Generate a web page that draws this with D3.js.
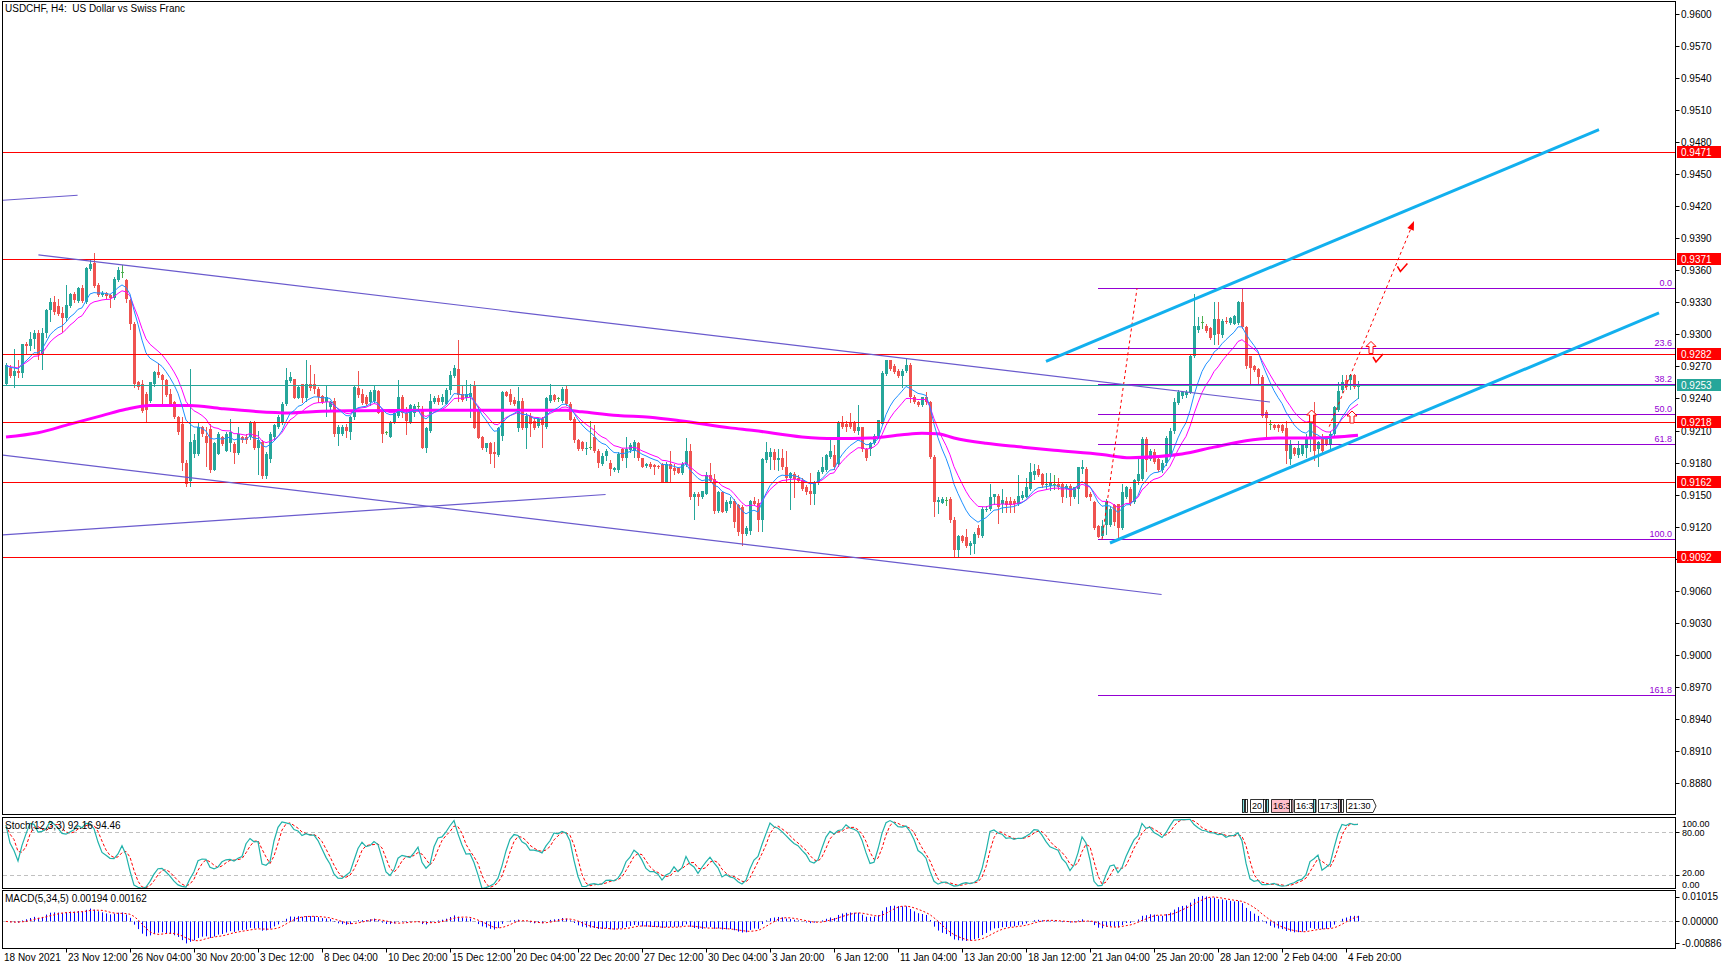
<!DOCTYPE html>
<html><head><meta charset="utf-8">
<script src="https://cdn.jsdelivr.net/npm/d3@7"></script>
<style>
body{margin:0;background:#fff;}
svg{display:block;font-family:"Liberation Sans",Arial,sans-serif;}
</style></head><body>
<svg id="chart" width="1723" height="969"></svg>
<script>
// ---------------- DATA ----------------
const chartTitle = "USDCHF, H4:  US Dollar vs Swiss Franc";
const timeLabels = ["18 Nov 2021","23 Nov 12:00","26 Nov 04:00","30 Nov 20:00","3 Dec 12:00","8 Dec 04:00","10 Dec 20:00","15 Dec 12:00","20 Dec 04:00","22 Dec 20:00","27 Dec 12:00","30 Dec 04:00","3 Jan 20:00","6 Jan 12:00","11 Jan 04:00","13 Jan 20:00","18 Jan 12:00","21 Jan 04:00","25 Jan 20:00","28 Jan 12:00","2 Feb 04:00","4 Feb 20:00"];
const barsPerLabel = 16;

const opens = [
0.9254,0.9269,0.9261,0.9266,0.9264,0.9291,0.9289,0.9296,0.9301,0.9282,
0.9301,0.9323,0.9330,0.9327,0.9320,0.9315,0.9327,0.9338,0.9331,0.9343,
0.9330,0.9361,0.9367,0.9346,0.9337,0.9339,0.9337,0.9334,0.9351,0.9358,
0.9351,0.9332,0.9310,0.9255,0.9254,0.9244,0.9238,0.9254,0.9265,0.9262,
0.9257,0.9244,0.9237,0.9223,0.9216,0.9180,0.9163,0.9188,0.9188,0.9213,
0.9205,0.9211,0.9173,0.9188,0.9204,0.9191,0.9198,0.9197,0.9189,0.9204,
0.9204,0.9204,0.9218,0.9194,0.9199,0.9167,0.9183,0.9204,0.9213,0.9218,
0.9235,0.9256,0.9258,0.9240,0.9254,0.9240,0.9254,0.9254,0.9249,0.9242,
0.9237,0.9232,0.9238,0.9207,0.9207,0.9213,0.9209,0.9223,0.9250,0.9244,
0.9241,0.9237,0.9238,0.9247,0.9227,0.9209,0.9204,0.9218,0.9224,0.9241,
0.9226,0.9218,0.9226,0.9233,0.9229,0.9194,0.9210,0.9237,0.9240,0.9237,
0.9235,0.9248,0.9261,0.9268,0.9244,0.9240,0.9241,0.9253,0.9230,0.9204,
0.9194,0.9198,0.9190,0.9187,0.9205,0.9246,0.9244,0.9239,0.9212,0.9238,
0.9212,0.9224,0.9219,0.9214,0.9221,0.9213,0.9238,0.9243,0.9240,0.9238,
0.9249,0.9235,0.9221,0.9201,0.9199,0.9193,0.9195,0.9204,0.9191,0.9179,
0.9186,0.9180,0.9173,0.9173,0.9193,0.9184,0.9192,0.9191,0.9198,0.9184,
0.9177,0.9179,0.9178,0.9177,0.9179,0.9162,0.9179,0.9175,0.9175,0.9170,
0.9178,0.9191,0.9148,0.9151,0.9148,0.9151,0.9168,0.9165,0.9135,0.9152,
0.9135,0.9141,0.9144,0.9140,0.9138,0.9113,0.9116,0.9144,0.9142,0.9126,
0.9182,0.9185,0.9190,0.9182,0.9184,0.9176,0.9166,0.9169,0.9166,0.9164,
0.9157,0.9153,0.9151,0.9161,0.9171,0.9173,0.9185,0.9187,0.9179,0.9218,
0.9216,0.9218,0.9218,0.9210,0.9213,0.9193,0.9193,0.9198,0.9205,0.9216,
0.9263,0.9276,0.9270,0.9266,0.9261,0.9266,0.9271,0.9241,0.9237,0.9234,
0.9241,0.9237,0.9185,0.9143,0.9142,0.9145,0.9146,0.9126,0.9098,0.9111,
0.9110,0.9102,0.9104,0.9119,0.9111,0.9136,0.9137,0.9148,0.9149,0.9141,
0.9144,0.9144,0.9144,0.9141,0.9147,0.9148,0.9155,0.9168,0.9174,0.9169,
0.9159,0.9158,0.9160,0.9160,0.9160,0.9155,0.9158,0.9148,0.9155,0.9174,
0.9174,0.9151,0.9143,0.9121,0.9111,0.9122,0.9122,0.9140,0.9141,0.9119,
0.9148,0.9155,0.9143,0.9163,0.9165,0.9202,0.9183,0.9190,0.9183,0.9173,
0.9180,0.9188,0.9210,0.9236,0.9242,0.9243,0.9246,0.9280,0.9304,0.9312,
0.9308,0.9306,0.9299,0.9314,0.9299,0.9313,0.9311,0.9310,0.9311,0.9330,
0.9307,0.9280,0.9270,0.9268,0.9260,0.9227,0.9216,0.9215,0.9215,0.9215,
0.9212,0.9183,0.9194,0.9187,0.9188,0.9194,0.9204,0.9226,0.9193,0.9204,
0.9204,0.9196,0.9207,0.9229,0.9248,0.9257,0.9257,0.9262,0.9251];
const highs = [
0.9273,0.9271,0.9286,0.9276,0.9291,0.9293,0.9302,0.9304,0.9304,0.9306,
0.9324,0.9334,0.9336,0.9333,0.9326,0.9346,0.9339,0.9340,0.9344,0.9346,
0.9363,0.9370,0.9376,0.9348,0.9341,0.9340,0.9338,0.9354,0.9363,0.9365,
0.9352,0.9333,0.9312,0.9256,0.9257,0.9246,0.9255,0.9266,0.9273,0.9263,
0.9258,0.9249,0.9238,0.9224,0.9223,0.9182,0.9268,0.9207,0.9218,0.9214,
0.9213,0.9216,0.9199,0.9209,0.9205,0.9209,0.9221,0.9199,0.9213,0.9205,
0.9207,0.9219,0.9219,0.9210,0.9201,0.9190,0.9209,0.9216,0.9225,0.9237,
0.9269,0.9265,0.9258,0.9252,0.9254,0.9276,0.9271,0.9263,0.9251,0.9243,
0.9253,0.9238,0.9240,0.9215,0.9215,0.9216,0.9224,0.9252,0.9266,0.9249,
0.9243,0.9248,0.9252,0.9248,0.9229,0.9210,0.9219,0.9229,0.9257,0.9243,
0.9232,0.9235,0.9235,0.9237,0.9233,0.9213,0.9244,0.9242,0.9243,0.9244,
0.9250,0.9266,0.9271,0.9295,0.9252,0.9257,0.9254,0.9256,0.9232,0.9205,
0.9198,0.9199,0.9199,0.9213,0.9247,0.9247,0.9249,0.9241,0.9251,0.9240,
0.9226,0.9226,0.9221,0.9222,0.9223,0.9241,0.9254,0.9244,0.9241,0.9251,
0.9252,0.9237,0.9223,0.9202,0.9200,0.9199,0.9219,0.9215,0.9193,0.9189,
0.9193,0.9182,0.9176,0.9190,0.9194,0.9204,0.9198,0.9201,0.9199,0.9184,
0.9180,0.9181,0.9179,0.9178,0.9180,0.9181,0.9191,0.9179,0.9176,0.9181,
0.9203,0.9197,0.9152,0.9152,0.9153,0.9171,0.9180,0.9169,0.9153,0.9153,
0.9145,0.9148,0.9146,0.9141,0.9140,0.9121,0.9145,0.9148,0.9146,0.9184,
0.9199,0.9194,0.9193,0.9193,0.9193,0.9191,0.9171,0.9171,0.9168,0.9166,
0.9159,0.9170,0.9163,0.9173,0.9185,0.9188,0.9201,0.9196,0.9219,0.9224,
0.9219,0.9226,0.9219,0.9234,0.9213,0.9194,0.9199,0.9207,0.9220,0.9266,
0.9276,0.9276,0.9272,0.9268,0.9268,0.9278,0.9273,0.9243,0.9238,0.9241,
0.9246,0.9238,0.9187,0.9148,0.9148,0.9148,0.9148,0.9129,0.9112,0.9112,
0.9118,0.9107,0.9115,0.9122,0.9138,0.9139,0.9160,0.9151,0.9151,0.9155,
0.9148,0.9148,0.9146,0.9168,0.9153,0.9166,0.9180,0.9179,0.9178,0.9170,
0.9170,0.9170,0.9168,0.9166,0.9162,0.9160,0.9160,0.9157,0.9176,0.9182,
0.9176,0.9152,0.9144,0.9122,0.9126,0.9146,0.9139,0.9141,0.9141,0.9160,
0.9158,0.9157,0.9165,0.9183,0.9204,0.9204,0.9193,0.9193,0.9184,0.9182,
0.9205,0.9212,0.9240,0.9248,0.9247,0.9248,0.9281,0.9338,0.9316,0.9317,
0.9310,0.9307,0.9330,0.9330,0.9314,0.9316,0.9316,0.9318,0.9331,0.9343,
0.9308,0.9280,0.9271,0.9269,0.9262,0.9229,0.9220,0.9216,0.9216,0.9216,
0.9219,0.9201,0.9195,0.9200,0.9197,0.9207,0.9227,0.9237,0.9200,0.9207,
0.9205,0.9210,0.9233,0.9255,0.9262,0.9262,0.9263,0.9263,0.9256];
const lows = [
0.9253,0.9260,0.9251,0.9260,0.9260,0.9283,0.9285,0.9287,0.9277,0.9268,
0.9298,0.9313,0.9319,0.9318,0.9302,0.9313,0.9326,0.9330,0.9330,0.9330,
0.9329,0.9360,0.9344,0.9336,0.9336,0.9334,0.9326,0.9333,0.9350,0.9354,
0.9330,0.9305,0.9251,0.9249,0.9227,0.9218,0.9237,0.9252,0.9260,0.9234,
0.9242,0.9233,0.9222,0.9207,0.9173,0.9158,0.9158,0.9185,0.9187,0.9205,
0.9177,0.9171,0.9173,0.9188,0.9196,0.9191,0.9191,0.9180,0.9188,0.9199,
0.9198,0.9202,0.9193,0.9169,0.9166,0.9166,0.9181,0.9202,0.9212,0.9216,
0.9234,0.9255,0.9240,0.9240,0.9237,0.9238,0.9248,0.9245,0.9237,0.9236,
0.9224,0.9230,0.9205,0.9196,0.9206,0.9204,0.9202,0.9221,0.9241,0.9235,
0.9234,0.9234,0.9237,0.9226,0.9199,0.9207,0.9204,0.9217,0.9223,0.9223,
0.9207,0.9217,0.9224,0.9229,0.9194,0.9190,0.9209,0.9236,0.9235,0.9235,
0.9235,0.9244,0.9260,0.9238,0.9238,0.9239,0.9223,0.9212,0.9203,0.9193,
0.9191,0.9180,0.9176,0.9186,0.9201,0.9242,0.9235,0.9234,0.9210,0.9211,
0.9194,0.9205,0.9211,0.9213,0.9195,0.9212,0.9237,0.9238,0.9238,0.9237,
0.9234,0.9220,0.9199,0.9192,0.9192,0.9188,0.9193,0.9190,0.9176,0.9178,
0.9182,0.9168,0.9172,0.9171,0.9182,0.9176,0.9190,0.9185,0.9182,0.9176,
0.9176,0.9175,0.9169,0.9175,0.9162,0.9162,0.9162,0.9169,0.9170,0.9169,
0.9177,0.9146,0.9127,0.9140,0.9147,0.9151,0.9162,0.9133,0.9134,0.9134,
0.9134,0.9138,0.9120,0.9112,0.9103,0.9112,0.9113,0.9140,0.9116,0.9116,
0.9181,0.9174,0.9174,0.9173,0.9174,0.9163,0.9137,0.9148,0.9162,0.9154,
0.9151,0.9141,0.9141,0.9160,0.9170,0.9172,0.9184,0.9174,0.9177,0.9212,
0.9210,0.9212,0.9209,0.9207,0.9191,0.9182,0.9187,0.9197,0.9204,0.9216,
0.9262,0.9267,0.9264,0.9260,0.9251,0.9265,0.9237,0.9236,0.9233,0.9233,
0.9235,0.9184,0.9130,0.9133,0.9142,0.9140,0.9124,0.9092,0.9093,0.9106,
0.9101,0.9094,0.9095,0.9110,0.9110,0.9135,0.9136,0.9141,0.9123,0.9134,
0.9134,0.9134,0.9134,0.9140,0.9146,0.9148,0.9154,0.9165,0.9167,0.9157,
0.9155,0.9154,0.9155,0.9155,0.9143,0.9148,0.9140,0.9147,0.9142,0.9170,
0.9148,0.9145,0.9118,0.9110,0.9110,0.9113,0.9121,0.9122,0.9109,0.9118,
0.9147,0.9140,0.9142,0.9160,0.9164,0.9172,0.9182,0.9180,0.9172,0.9171,
0.9178,0.9187,0.9208,0.9235,0.9240,0.9241,0.9245,0.9279,0.9302,0.9306,
0.9302,0.9296,0.9291,0.9291,0.9298,0.9311,0.9310,0.9310,0.9310,0.9306,
0.9269,0.9254,0.9266,0.9254,0.9223,0.9205,0.9211,0.9211,0.9210,0.9209,
0.9180,0.9179,0.9187,0.9185,0.9187,0.9185,0.9191,0.9182,0.9177,0.9188,
0.9196,0.9193,0.9206,0.9228,0.9246,0.9249,0.9249,0.9250,0.9240];
const closes = [
0.9271,0.9261,0.9266,0.9264,0.9291,0.9289,0.9296,0.9301,0.9282,0.9301,
0.9323,0.9330,0.9321,0.9319,0.9315,0.9328,0.9338,0.9332,0.9343,0.9331,
0.9362,0.9366,0.9345,0.9337,0.9339,0.9336,0.9334,0.9352,0.9360,0.9358,
0.9333,0.9310,0.9254,0.9251,0.9228,0.9229,0.9255,0.9265,0.9262,0.9257,
0.9243,0.9234,0.9223,0.9209,0.9180,0.9160,0.9199,0.9201,0.9213,0.9207,
0.9198,0.9173,0.9198,0.9207,0.9197,0.9207,0.9209,0.9189,0.9207,0.9201,
0.9201,0.9218,0.9194,0.9201,0.9167,0.9188,0.9207,0.9215,0.9223,0.9235,
0.9257,0.9260,0.9240,0.9251,0.9240,0.9254,0.9250,0.9249,0.9241,0.9237,
0.9241,0.9237,0.9207,0.9213,0.9213,0.9210,0.9223,0.9251,0.9243,0.9236,
0.9235,0.9246,0.9248,0.9226,0.9207,0.9209,0.9218,0.9226,0.9241,0.9226,
0.9219,0.9234,0.9233,0.9233,0.9194,0.9212,0.9238,0.9240,0.9237,0.9241,
0.9248,0.9262,0.9269,0.9243,0.9239,0.9244,0.9245,0.9212,0.9203,0.9194,
0.9198,0.9188,0.9188,0.9212,0.9246,0.9242,0.9237,0.9235,0.9238,0.9212,
0.9224,0.9216,0.9212,0.9221,0.9215,0.9240,0.9243,0.9239,0.9240,0.9249,
0.9235,0.9220,0.9201,0.9193,0.9193,0.9194,0.9195,0.9191,0.9180,0.9186,
0.9191,0.9174,0.9175,0.9188,0.9184,0.9193,0.9196,0.9199,0.9184,0.9176,
0.9179,0.9176,0.9176,0.9176,0.9162,0.9179,0.9174,0.9172,0.9170,0.9179,
0.9191,0.9148,0.9151,0.9148,0.9153,0.9168,0.9163,0.9135,0.9152,0.9134,
0.9143,0.9144,0.9124,0.9115,0.9113,0.9119,0.9144,0.9141,0.9126,0.9183,
0.9190,0.9190,0.9182,0.9184,0.9176,0.9166,0.9170,0.9165,0.9163,0.9155,
0.9152,0.9151,0.9162,0.9171,0.9176,0.9187,0.9191,0.9176,0.9218,0.9213,
0.9213,0.9213,0.9210,0.9213,0.9193,0.9184,0.9198,0.9205,0.9220,0.9264,
0.9276,0.9268,0.9265,0.9261,0.9266,0.9271,0.9241,0.9237,0.9234,0.9241,
0.9237,0.9185,0.9143,0.9145,0.9146,0.9145,0.9126,0.9098,0.9111,0.9107,
0.9102,0.9105,0.9113,0.9112,0.9137,0.9137,0.9148,0.9151,0.9138,0.9145,
0.9140,0.9140,0.9141,0.9149,0.9150,0.9157,0.9171,0.9172,0.9168,0.9159,
0.9160,0.9161,0.9160,0.9157,0.9148,0.9158,0.9148,0.9157,0.9176,0.9176,
0.9148,0.9148,0.9119,0.9110,0.9121,0.9143,0.9137,0.9124,0.9119,0.9152,
0.9157,0.9142,0.9164,0.9169,0.9202,0.9182,0.9191,0.9181,0.9173,0.9180,
0.9203,0.9210,0.9237,0.9246,0.9246,0.9246,0.9280,0.9308,0.9308,0.9312,
0.9303,0.9297,0.9314,0.9300,0.9313,0.9312,0.9315,0.9317,0.9330,0.9307,
0.9270,0.9269,0.9267,0.9260,0.9224,0.9222,0.9216,0.9212,0.9212,0.9210,
0.9191,0.9196,0.9188,0.9194,0.9196,0.9202,0.9226,0.9191,0.9199,0.9191,
0.9197,0.9207,0.9232,0.9247,0.9255,0.9251,0.9262,0.9251,0.9253];

// long moving average (thick magenta)
const slowMaBars   = [0,8,16,24,30,36,46,54,62,71,79,88,111,140,144,153,161,169,181,187,199,207,216,224,229,233,237,245,254,262,274,281,294,302,310,318,327,338];
const slowMaValues = [0.92040,0.92080,0.92160,0.92240,0.92300,0.92335,0.92335,0.92305,0.92280,0.92265,0.92280,0.92285,0.92290,0.92290,0.92275,0.92240,0.92225,0.92190,0.92125,0.92100,0.92040,0.92025,0.92030,0.92060,0.92075,0.92070,0.92030,0.91980,0.91945,0.91915,0.91875,0.91845,0.91880,0.91945,0.92005,0.92030,0.92030,0.92055];

const priceTickMin = 0.8880, priceTickMax = 0.9600, priceTickStep = 0.0030;
const levelPrices = [0.9471, 0.9371, 0.9282, 0.9218, 0.9162, 0.9092];
const bidPrice = 0.9253;

const fibHigh = 0.9343, fibLow = 0.9108;
const fibLevels = [0, 23.6, 38.2, 50, 61.8, 100, 161.8];
const fibStartBar = 273;
const fibTrend = [274, 0.9108, 282.75, 0.9343];

// trend lines: [bar1, price1, bar2, price2]
const channelLines = [[260, 0.92747, 398.25, 0.94917], [276, 0.91047, 413.25, 0.93201]];
const slateLines = [[8.1, 0.93744, 316, 0.92367], [-1, 0.91871, 288.9, 0.90565], [-1, 0.91122, 149.9, 0.91501], [-0.8, 0.94256, 17.9, 0.94303]];
const signalArrow = [330.8, 0.92136, 352, 0.94062];

const upArrowBars = [341.25, 326.4, 336.5];
const upArrowPrices = [0.92878, 0.92236, 0.92227];
const checkBars = [349.1, 343];
const checkPrices = [0.93627, 0.92779];

const tagTexts = ["20", "16:3", "16:3", "17:3", "21:30"];
const tagBars = [311, 316.2, 322.1, 328.1, 335];

const stochLabel = "Stoch(12,3,3) 92.16 94.46";
const macdLabel = "MACD(5,34,5) 0.00194 0.00162";
const stochLevels = [20, 80];
const stochAxisLabels = [100, 80, 20, 0];
const macdAxisLabels = [0.01015, 0, -0.00886];

// ---------------- LAYOUT / STYLE ----------------
const W = 1723, H = 969;
const LEFT = 2.5, RIGHT = 1675.5;
const mainP = {top: 1.5, bottom: 814.5};
const stochP = {top: 817.5, bottom: 888.5};
const macdP = {top: 890.5, bottom: 948.5};
const BULL = "#26a69a", BEAR = "#ef5350", DOJI = "#4caf50";
const FIB = "#9400d3", SLATE = "#6a5acd", CHAN = "#12b0ee";
const FONT = 10;

const svg = d3.select("#chart");
svg.append("rect").attr("width", W).attr("height", H).attr("fill", "#fff");
const defs = svg.append("defs");
defs.append("clipPath").attr("id", "clipMain").append("rect").attr("x", 3).attr("y", 2).attr("width", 1672).attr("height", 812);
defs.append("clipPath").attr("id", "clipStoch").append("rect").attr("x", 3).attr("y", 818).attr("width", 1672).attr("height", 70);
defs.append("clipPath").attr("id", "clipMacd").append("rect").attr("x", 3).attr("y", 891).attr("width", 1672).attr("height", 57);

const N = closes.length;
const x = d3.scaleLinear().domain([0, 338]).range([6, 1358]);
const y = d3.scaleLinear().domain([0.888, 0.96]).range([783, 14]);
const ys = d3.scaleLinear().domain([0, 100]).range([889.5, 818]);
const ym = d3.scaleLinear().domain([-0.00886, 0.01015]).range([948, 891]);

// ---------------- indicators ----------------
function ema(arr, p) { const a = 2 / (p + 1); const out = []; arr.forEach((v, i) => out.push(i ? out[i - 1] + a * (v - out[i - 1]) : v)); return out; }
function sma(arr, p) { return arr.map((v, i) => d3.mean(arr.slice(Math.max(0, i - p + 1), i + 1))); }
const maFast = ema(closes, 10), maMid = ema(closes, 15);
const num = [], den = [], K = [];
for (let i = 0; i < N; i++) {
  const s = Math.max(0, i - 11);
  const ll = d3.min(lows.slice(s, i + 1)), hh = d3.max(highs.slice(s, i + 1));
  num.push(closes[i] - ll); den.push(hh - ll);
  const s2 = Math.max(0, i - 2);
  const sd = d3.sum(den.slice(s2, i + 1));
  K.push(sd > 0 ? d3.sum(num.slice(s2, i + 1)) / sd * 100 : 50);
}
const Dline = sma(K, 3);
const e5 = ema(closes, 5), e34 = ema(closes, 34);
const macd = e5.map((v, i) => v - e34[i]);
const macdSig = sma(macd, 5);

// ---------------- main panel ----------------
const gM = svg.append("g").attr("clip-path", "url(#clipMain)");
const idx = d3.range(N);
const colOf = i => closes[i] > opens[i] ? BULL : (closes[i] < opens[i] ? BEAR : DOJI);
gM.append("g").selectAll("line").data(idx).join("line")
  .attr("x1", i => Math.round(x(i)) + 0.5).attr("x2", i => Math.round(x(i)) + 0.5)
  .attr("y1", i => Math.round(y(highs[i]))).attr("y2", i => Math.round(y(lows[i])) + 1)
  .attr("stroke", colOf).attr("stroke-width", 1);
gM.append("g").selectAll("rect").data(idx).join("rect")
  .attr("x", i => Math.round(x(i)) - 1)
  .attr("y", i => Math.round(y(Math.max(opens[i], closes[i]))))
  .attr("width", 3)
  .attr("height", i => Math.max(1, Math.round(y(Math.min(opens[i], closes[i]))) - Math.round(y(Math.max(opens[i], closes[i])))))
  .attr("fill", colOf);

const lineIdx = d3.line().x((d, i) => x(i)).y(d => y(d));
gM.append("path").attr("d", d3.line().curve(d3.curveMonotoneX).x((d, i) => x(slowMaBars[i])).y(d => y(d))(slowMaValues))
  .attr("fill", "none").attr("stroke", "#ff00ff").attr("stroke-width", 3);
gM.append("path").attr("d", lineIdx(maMid)).attr("fill", "none").attr("stroke", "#ff00ff").attr("stroke-width", 1);
gM.append("path").attr("d", lineIdx(maFast)).attr("fill", "none").attr("stroke", "#1e90ff").attr("stroke-width", 1);

// bid line
gM.append("line").attr("x1", 3).attr("x2", RIGHT).attr("y1", Math.round(y(bidPrice)) + 0.5).attr("y2", Math.round(y(bidPrice)) + 0.5).attr("stroke", BULL);
// horizontal levels
gM.append("g").selectAll("line").data(levelPrices).join("line")
  .attr("x1", 3).attr("x2", RIGHT).attr("y1", d => Math.round(y(d)) + 0.5).attr("y2", d => Math.round(y(d)) + 0.5)
  .attr("stroke", "#ff0000");
// fibonacci
const fibPrice = l => fibHigh - (fibHigh - fibLow) * l / 100;
gM.append("g").selectAll("line").data(fibLevels).join("line")
  .attr("x1", Math.round(x(fibStartBar))).attr("x2", RIGHT)
  .attr("y1", d => Math.round(y(fibPrice(d))) + 0.5).attr("y2", d => Math.round(y(fibPrice(d))) + 0.5)
  .attr("stroke", FIB);
gM.append("g").selectAll("text").data(fibLevels).join("text")
  .attr("x", 1672).attr("y", d => Math.round(y(fibPrice(d))) - 2).attr("text-anchor", "end")
  .attr("font-size", 9).attr("fill", FIB).text(d => d.toFixed(1));
gM.append("line").attr("x1", x(fibTrend[0])).attr("y1", y(fibTrend[1])).attr("x2", x(fibTrend[2])).attr("y2", y(fibTrend[3]))
  .attr("stroke", "#ff0000").attr("stroke-dasharray", "3,3");
// slate trend lines
gM.append("g").selectAll("line").data(slateLines).join("line")
  .attr("x1", d => x(d[0])).attr("y1", d => y(d[1])).attr("x2", d => x(d[2])).attr("y2", d => y(d[3]))
  .attr("stroke", SLATE).attr("stroke-width", 1.2);
// channel
gM.append("g").selectAll("line").data(channelLines).join("line")
  .attr("x1", d => x(d[0])).attr("y1", d => y(d[1])).attr("x2", d => x(d[2])).attr("y2", d => y(d[3]))
  .attr("stroke", CHAN).attr("stroke-width", 3);
// signal arrow
{
  const x1 = x(signalArrow[0]), y1 = y(signalArrow[1]), x2 = x(signalArrow[2]), y2 = y(signalArrow[3]);
  const ang = Math.atan2(y2 - y1, x2 - x1), hl = 9, hw = 3.5;
  const bx = x2 - hl * Math.cos(ang), by = y2 - hl * Math.sin(ang);
  gM.append("line").attr("x1", x1).attr("y1", y1).attr("x2", bx).attr("y2", by).attr("stroke", "#ff0000").attr("stroke-dasharray", "3,3");
  gM.append("path").attr("d", `M${x2},${y2}L${bx + hw * Math.sin(ang)},${by - hw * Math.cos(ang)}L${bx - hw * Math.sin(ang)},${by + hw * Math.cos(ang)}Z`).attr("fill", "#ff0000");
}
// hollow up arrows
gM.append("g").selectAll("path").data(upArrowBars).join("path")
  .attr("transform", (d, i) => `translate(${x(d)},${y(upArrowPrices[i])})`)
  .attr("d", "M0,-6L5,-1L2,-1L2,6L-2,6L-2,-1L-5,-1Z")
  .attr("fill", "#fff").attr("stroke", "#ff0000").attr("stroke-width", 1);
// check marks
gM.append("g").selectAll("path").data(checkBars).join("path")
  .attr("transform", (d, i) => `translate(${x(d)},${y(checkPrices[i])})`)
  .attr("d", "M-5,-1L-2,4L5,-4")
  .attr("fill", "none").attr("stroke", "#ff0000").attr("stroke-width", 1.6);

// event tags at the bottom of main panel
{
  const gT = gM.append("g").attr("font-size", 9);
  const tagFill = ["#fff", "#ffc0cb", "#fff", "#fff", "#fff"];
  const stubs = [["#7fdfe0", "#fff"], ["#fff", "#7fdfe0"], ["#fff"], ["#7fdfe0"], ["#ffc0cb", "#fff"]];
  const ty = 799, th = 13;
  tagBars.forEach((b, i) => {
    const left = Math.round(x(b));
    let sx = left - 2;
    stubs[i].slice().reverse().forEach(c => { sx -= 3; gT.append("rect").attr("x", sx + 0.5).attr("y", ty + 0.5).attr("width", 2).attr("height", th).attr("fill", c).attr("stroke", "#000").attr("stroke-width", 0.8); });
    const t = gT.append("text").attr("x", left + 2).attr("y", ty + 10).text(tagTexts[i]);
    const tw = t.node().getComputedTextLength() + 4;
    const shape = i === tagBars.length - 1
      ? `M${left + 0.5},${ty + 0.5}h${tw}l3,${th / 2}l-3,${th / 2}h${-tw}Z`
      : `M${left + 0.5},${ty + 0.5}h${tw}v${th}h${-tw}Z`;
    gT.insert("path", "text").attr("d", shape).attr("fill", tagFill[i]).attr("stroke", "#000").attr("stroke-width", 0.8);
  });
}

// title
svg.append("text").attr("x", 5).attr("y", 12).attr("font-size", FONT).style("white-space", "pre").text(chartTitle);

// ---------------- stochastic ----------------
const gS = svg.append("g").attr("clip-path", "url(#clipStoch)");
gS.append("g").selectAll("line").data(stochLevels).join("line")
  .attr("x1", 3).attr("x2", RIGHT).attr("y1", d => Math.round(ys(d)) + 0.5).attr("y2", d => Math.round(ys(d)) + 0.5)
  .attr("stroke", "#c0c0c0").attr("stroke-dasharray", "4,3");
const lineS = d3.line().x((d, i) => x(i)).y(d => ys(d));
gS.append("path").attr("d", lineS(Dline)).attr("fill", "none").attr("stroke", "#ff0000").attr("stroke-dasharray", "3,2");
gS.append("path").attr("d", lineS(K)).attr("fill", "none").attr("stroke", "#20b2aa").attr("stroke-width", 1.2);
svg.append("text").attr("x", 5).attr("y", 829).attr("font-size", FONT).text(stochLabel);

// ---------------- MACD ----------------
const gD = svg.append("g").attr("clip-path", "url(#clipMacd)");
gD.append("line").attr("x1", 3).attr("x2", RIGHT).attr("y1", Math.round(ym(0)) + 0.5).attr("y2", Math.round(ym(0)) + 0.5)
  .attr("stroke", "#c0c0c0").attr("stroke-dasharray", "4,3");
gD.append("g").selectAll("line").data(macd).join("line")
  .attr("x1", (d, i) => Math.round(x(i)) + 0.5).attr("x2", (d, i) => Math.round(x(i)) + 0.5)
  .attr("y1", ym(0)).attr("y2", d => ym(d)).attr("stroke", "#0000ff").attr("stroke-width", 1);
gD.append("path").attr("d", d3.line().x((d, i) => x(i)).y(d => ym(d))(macdSig)).attr("fill", "none").attr("stroke", "#ff0000").attr("stroke-dasharray", "2,2");
svg.append("text").attr("x", 5).attr("y", 902).attr("font-size", FONT).text(macdLabel);

// ---------------- frames ----------------
[mainP, stochP, macdP].forEach(p => {
  svg.append("rect").attr("x", LEFT).attr("y", p.top).attr("width", RIGHT - LEFT).attr("height", p.bottom - p.top)
    .attr("fill", "none").attr("stroke", "#000").attr("stroke-width", 1);
});

// ---------------- price axis ----------------
const gA = svg.append("g").attr("font-size", FONT);
const priceTicks = d3.range(Math.round((priceTickMax - priceTickMin) / priceTickStep) + 1).map(k => priceTickMin + k * priceTickStep);
priceTicks.forEach(v => {
  const yy = Math.round(y(v)) + 0.5;
  gA.append("line").attr("x1", RIGHT).attr("x2", RIGHT + 4).attr("y1", yy).attr("y2", yy).attr("stroke", "#000");
  gA.append("text").attr("x", 1681).attr("y", yy + 3.5).text(v.toFixed(4));
});
levelPrices.forEach(v => {
  const yy = Math.round(y(v));
  gA.append("rect").attr("x", 1677).attr("y", yy - 6).attr("width", 44).attr("height", 12).attr("fill", "#ff0000");
  gA.append("text").attr("x", 1681).attr("y", yy + 4).attr("fill", "#fff").text(v.toFixed(4));
});
{
  const yy = Math.round(y(bidPrice));
  gA.append("rect").attr("x", 1677).attr("y", yy - 6).attr("width", 44).attr("height", 12).attr("fill", BULL);
  gA.append("text").attr("x", 1681).attr("y", yy + 4).attr("fill", "#fff").text(bidPrice.toFixed(4));
}
// stoch axis
const stochLabelBase = {100: 826.5, 80: 835.5, 20: 876, 0: 887.5};
stochAxisLabels.forEach(v => {
  if (v === 80 || v === 20) gA.append("line").attr("x1", RIGHT).attr("x2", RIGHT + 4).attr("y1", Math.round(ys(v)) + 0.5).attr("y2", Math.round(ys(v)) + 0.5).attr("stroke", "#000");
  gA.append("text").attr("x", 1682).attr("y", stochLabelBase[v]).attr("font-size", 9).text(v.toFixed(2));
});
macdAxisLabels.forEach(v => {
  const yy = Math.min(Math.max(ym(v), macdP.top + 6), macdP.bottom - 5.5);
  gA.append("line").attr("x1", RIGHT).attr("x2", RIGHT + 4).attr("y1", Math.round(yy) + 0.5).attr("y2", Math.round(yy) + 0.5).attr("stroke", "#000");
  gA.append("text").attr("x", 1682).attr("y", yy + 3.5).text(v.toFixed(5));
});

// ---------------- time axis ----------------
const gX = svg.append("g").attr("font-size", FONT);
timeLabels.forEach((t, i) => {
  const tx = Math.round(x(i * barsPerLabel - 1));
  const xx = Math.max(tx, 2);
  if (i > 0) gX.append("line").attr("x1", xx + 0.5).attr("x2", xx + 0.5).attr("y1", macdP.bottom).attr("y2", macdP.bottom + 4).attr("stroke", "#000");
  gX.append("text").attr("x", xx + 2).attr("y", 961).text(t);
});
</script>
</body></html>
